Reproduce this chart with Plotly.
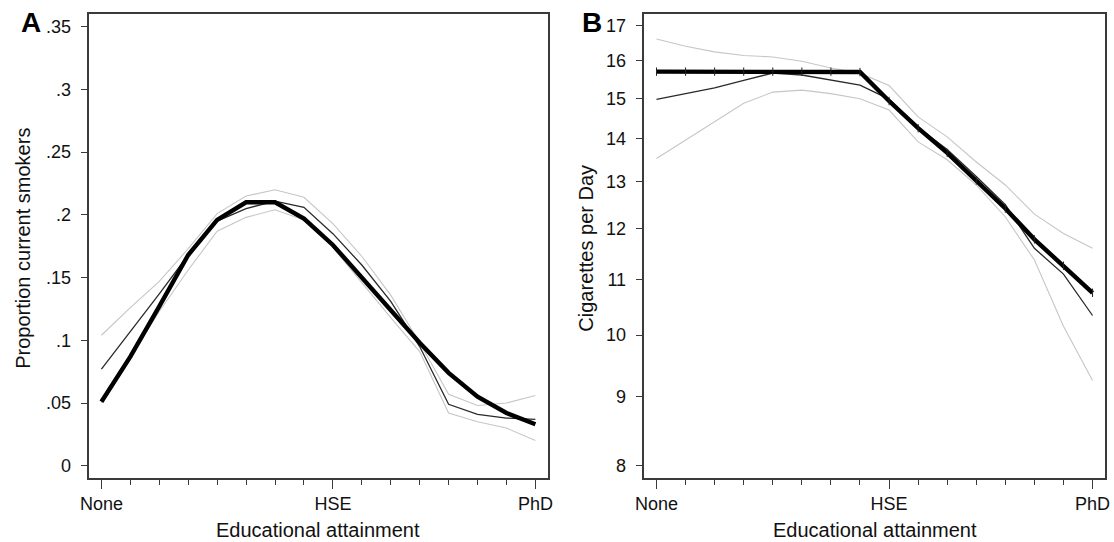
import math
import plotly.graph_objects as go

# ---------------- data ----------------
edu_pos = [0, 1, 2, 3, 4, 5, 6, 7, 8, 9, 10, 11, 12, 13, 14, 15]
major_ticks = [0, 8, 15]
major_labels = ["None", "HSE", "PhD"]

# Panel A: proportion current smokers
a_fit = [0.051, 0.087, 0.127, 0.168, 0.196, 0.210, 0.210, 0.197, 0.176, 0.150, 0.124, 0.098, 0.074, 0.055, 0.042, 0.033]
a_obs = [0.077, 0.107, 0.137, 0.168, 0.195, 0.205, 0.211, 0.206, 0.185, 0.160, 0.131, 0.095, 0.049, 0.041, 0.038, 0.037]
a_hi = [0.104, 0.126, 0.147, 0.173, 0.201, 0.215, 0.220, 0.214, 0.193, 0.167, 0.136, 0.098, 0.057, 0.048, 0.050, 0.056]
a_lo = [0.050, 0.087, 0.123, 0.156, 0.187, 0.198, 0.204, 0.196, 0.174, 0.146, 0.118, 0.091, 0.042, 0.035, 0.030, 0.020]
a_yticks = [0, 0.05, 0.1, 0.15, 0.2, 0.25, 0.3, 0.35]
a_ylabels = ["0", ".05", ".1", ".15", ".2", ".25", ".3", ".35"]

# Panel B: cigarettes per day (log scale)
b_fit = [15.7, 15.7, 15.7, 15.7, 15.7, 15.7, 15.7, 15.69, 14.93, 14.25, 13.66, 13.03, 12.42, 11.78, 11.26, 10.75]
b_obs = [14.97, 15.12, 15.27, 15.47, 15.66, 15.61, 15.47, 15.34, 14.98, 14.27, 13.74, 13.12, 12.50, 11.60, 11.10, 10.34]
b_hi = [16.60, 16.40, 16.24, 16.14, 16.10, 15.98, 15.80, 15.66, 15.33, 14.53, 14.04, 13.45, 12.93, 12.30, 11.90, 11.60]
b_lo = [13.53, 13.96, 14.41, 14.87, 15.16, 15.21, 15.12, 14.99, 14.70, 13.92, 13.50, 12.93, 12.24, 11.37, 10.15, 9.25]
b_yticks = [8, 9, 10, 11, 12, 13, 14, 15, 16, 17]
b_ylabels = ["8", "9", "10", "11", "12", "13", "14", "15", "16", "17"]

W, H = 1114, 542
FONT = "Liberation Sans, Arial, Helvetica, sans-serif"
LIGHT = "#c6c6c6"
DARK = "#2a2a2a"
FRAME = "#3a3a3a"

fig = go.Figure()

def add_panel(xa, ya, hi, lo, obs, fit, fit_markers):
    for s in (hi, lo):
        fig.add_trace(go.Scatter(x=edu_pos, y=s, mode="lines", xaxis=xa, yaxis=ya,
                                 line=dict(color=LIGHT, width=1.1), showlegend=False, hoverinfo="skip"))
    fig.add_trace(go.Scatter(x=edu_pos, y=obs, mode="lines", xaxis=xa, yaxis=ya,
                             line=dict(color=DARK, width=1.3), showlegend=False))
    fig.add_trace(go.Scatter(x=edu_pos, y=fit, mode="lines+markers" if fit_markers else "lines",
                             xaxis=xa, yaxis=ya,
                             line=dict(color="black", width=4.4),
                             marker=dict(symbol="line-ns", size=6, line=dict(color="#222", width=1)) if fit_markers else None,
                             showlegend=False))

add_panel("x", "y", a_hi, a_lo, a_obs, a_fit, False)
add_panel("x2", "y2", b_hi, b_lo, b_obs, b_fit, True)

def px_to_paper_x(p):
    return p / W

def px_to_paper_y(p):
    return 1 - p / H

top_px, bot_px = 14.3, 478.0
ydom = [px_to_paper_y(bot_px), px_to_paper_y(top_px)]

xaxis_common = dict(
    showline=True, linecolor=FRAME, linewidth=1.5, mirror=True,
    ticks="outside", ticklen=9, tickwidth=1.3, tickcolor=FRAME,
    tickvals=major_ticks, ticktext=major_labels,
    minor=dict(ticks="outside", ticklen=5, tickwidth=1.2, tickcolor=FRAME, dtick=1, tick0=0),
    showgrid=False, zeroline=False,
    tickfont=dict(family=FONT, size=18, color="#111"),
    ticklabelstandoff=0,
    range=[-0.416, 15.43],
)
yaxis_common = dict(
    showline=True, linecolor=FRAME, linewidth=1.5, mirror=True,
    ticks="outside", ticklen=7, tickwidth=1.3, tickcolor=FRAME,
    showgrid=False, zeroline=False,
    tickfont=dict(family=FONT, size=18, color="#111"),
    ticklabelstandoff=6,
)

fig.update_layout(
    width=W, height=H,
    margin=dict(l=0, r=0, t=0, b=0),
    paper_bgcolor="white", plot_bgcolor="white",
    xaxis=dict(domain=[px_to_paper_x(81.4), px_to_paper_x(545.7)], anchor="y", **xaxis_common),
    yaxis=dict(domain=ydom, anchor="x", range=[-0.0098, 0.3599],
               tickvals=a_yticks, ticktext=a_ylabels, **yaxis_common),
    xaxis2=dict(domain=[px_to_paper_x(643.5), px_to_paper_x(1110.0)], anchor="y2", **xaxis_common),
    yaxis2=dict(domain=ydom, anchor="x2", type="log",
                range=[math.log10(7.828), math.log10(17.32)],
                tickvals=b_yticks, ticktext=b_ylabels, **yaxis_common),
)

ann = []
title_font = dict(family=FONT, size=20, color="#111")
ann.append(dict(text="Educational attainment", x=px_to_paper_x(313), y=px_to_paper_y(530),
                xref="paper", yref="paper", showarrow=False, font=title_font, xanchor="center", yanchor="middle"))
ann.append(dict(text="Educational attainment", x=px_to_paper_x(877), y=px_to_paper_y(530),
                xref="paper", yref="paper", showarrow=False, font=title_font, xanchor="center", yanchor="middle"))
ann.append(dict(text="Proportion current smokers", x=px_to_paper_x(14), y=px_to_paper_y(248),
                xref="paper", yref="paper", showarrow=False, font=title_font, textangle=-90,
                xanchor="center", yanchor="middle"))
ann.append(dict(text="Cigarettes per Day", x=px_to_paper_x(584), y=px_to_paper_y(248),
                xref="paper", yref="paper", showarrow=False, font=title_font, textangle=-90,
                xanchor="center", yanchor="middle"))
ann.append(dict(text="<b>A</b>", x=px_to_paper_x(22.5), y=px_to_paper_y(22),
                xref="paper", yref="paper", showarrow=False,
                font=dict(family=FONT, size=28, color="black"), xanchor="center", yanchor="middle"))
ann.append(dict(text="<b>B</b>", x=px_to_paper_x(590), y=px_to_paper_y(22),
                xref="paper", yref="paper", showarrow=False,
                font=dict(family=FONT, size=28, color="black"), xanchor="center", yanchor="middle"))
fig.update_layout(annotations=ann)

fig.write_html("out.html")
